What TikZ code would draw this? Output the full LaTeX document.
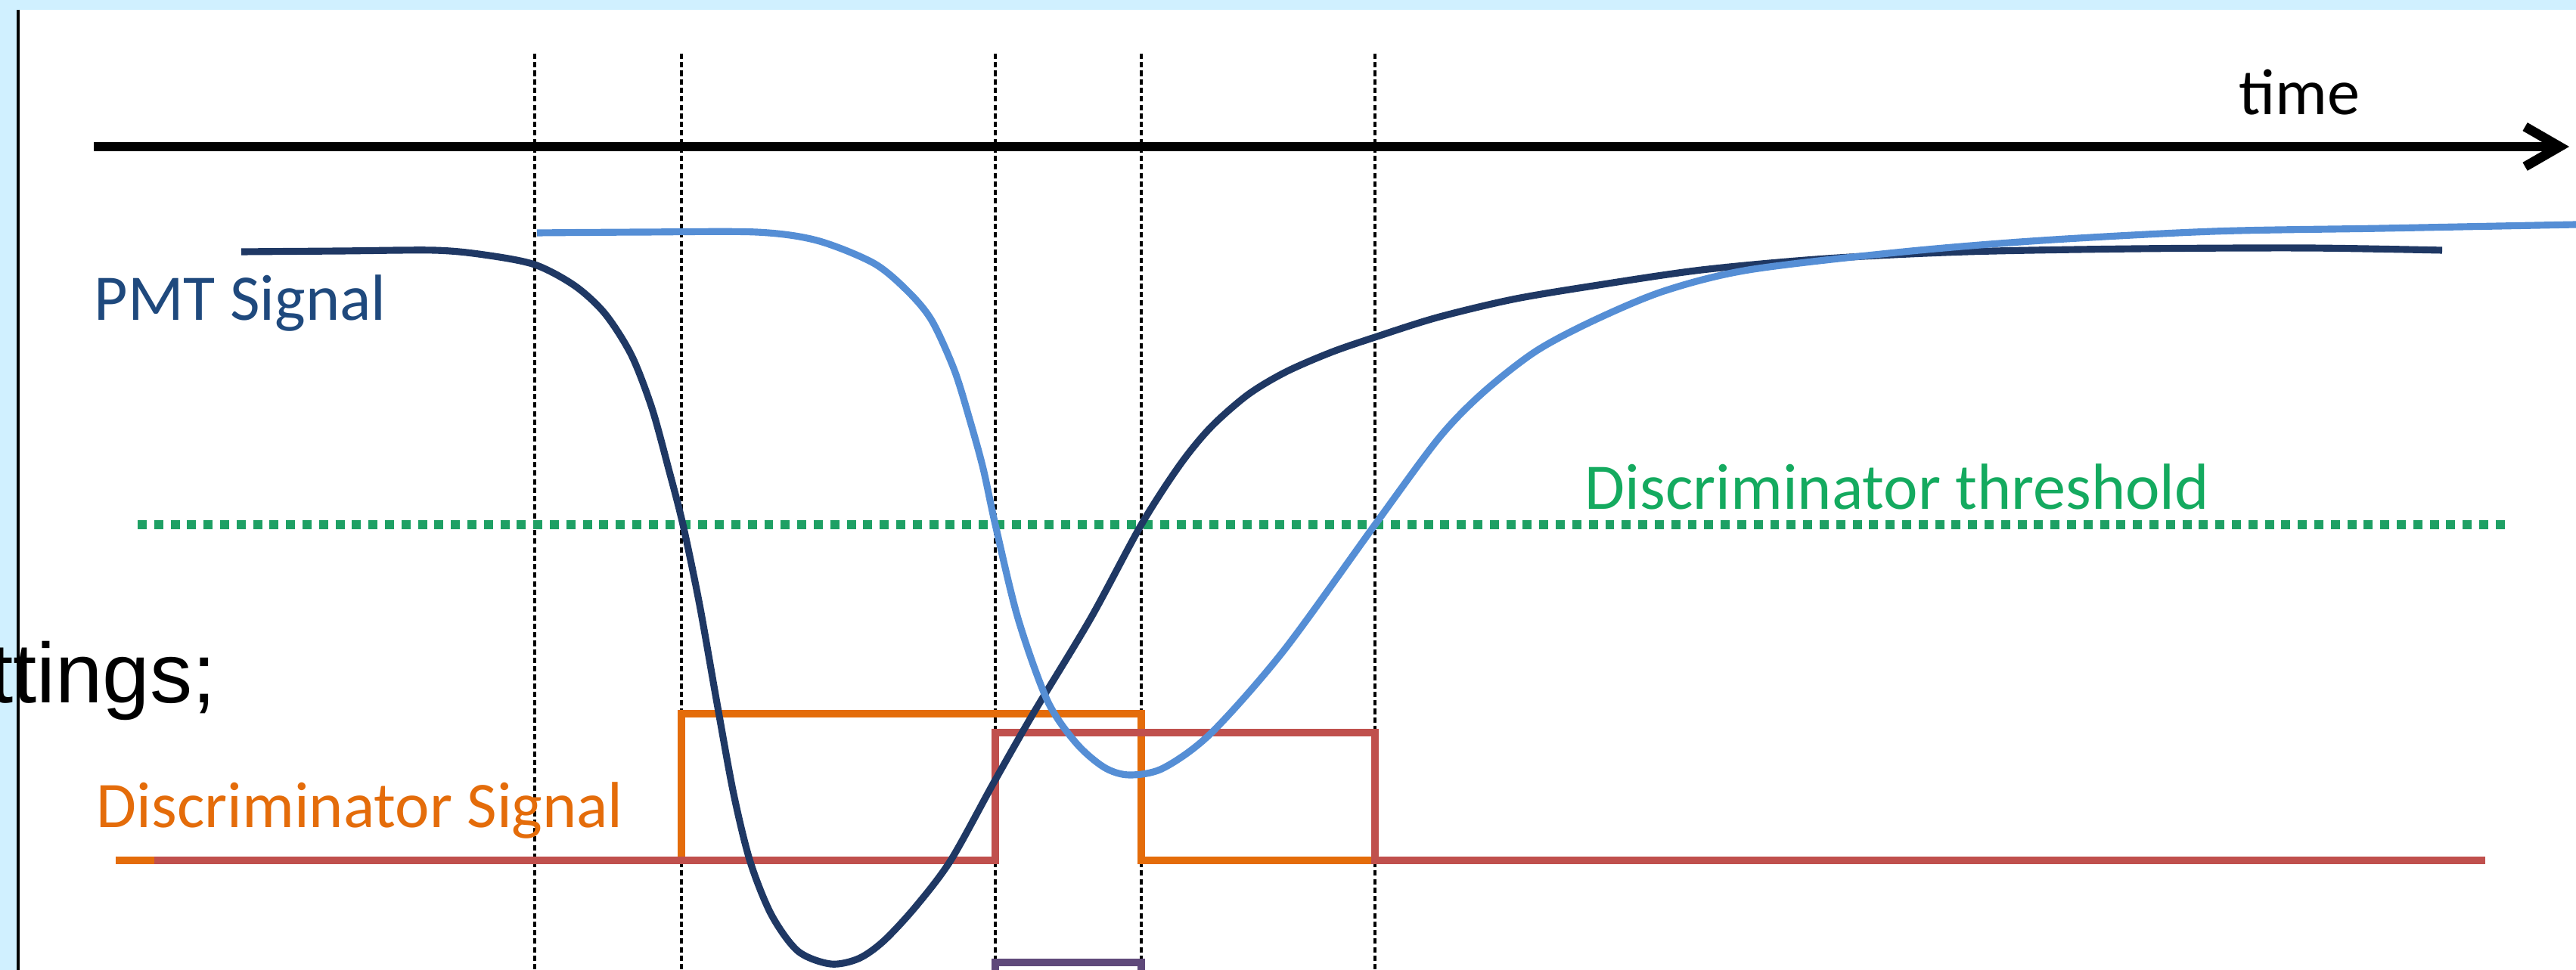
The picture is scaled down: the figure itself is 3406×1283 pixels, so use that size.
\documentclass[tikz,border=0pt]{standalone}
\usepackage{fontspec}
\setmainfont{Carlito}
\newfontfamily\slidefont{Liberation Sans}
\usepackage{xcolor}
\usepackage{tikz}
\usetikzlibrary{arrows.meta, positioning}
\definecolor{pmtdark}{RGB}{31,56,100}
\definecolor{pmtlight}{RGB}{85,142,213}
\definecolor{pmttext}{RGB}{31,73,125}
\definecolor{discorange}{RGB}{228,108,10}
\definecolor{discred}{RGB}{192,80,77}
\definecolor{thrgreen}{RGB}{30,160,100}
\definecolor{thrtext}{RGB}{20,170,95}
\definecolor{gatepurple}{RGB}{95,73,122}
\definecolor{slideband}{RGB}{208,240,255}
\tikzset{
    lbl/.style={inner sep=0pt, font=\fontsize{24.5}{29}\selectfont},
    axisline/.style={line width=3.4pt, draw=black,
                     -{Straight Barb[length=13pt, width=15pt, line width=3.6pt]}},
    marker/.style={line width=0.9pt, draw=black,
                   dash pattern=on 2pt off 1.2pt},
    thresh/.style={line width=3.2pt, draw=thrgreen,
                   dash pattern=on 3.4pt off 2.8pt},
    sigdark/.style={line width=2.6pt, draw=pmtdark, smooth, tension=0.5},
    siglight/.style={line width=2.6pt, draw=pmtlight, smooth, tension=0.5},
    discA/.style={line width=2.7pt, draw=discorange},
    discB/.style={line width=2.7pt, draw=discred},
    gate/.style={line width=2.7pt, draw=gatepurple}
}
\begin{document}
\begin{tikzpicture}[x=0.01cm, y=-0.01cm]
\useasboundingbox (0,0) rectangle (3406,1283);

% slide frame
\fill[slideband] (0,0) rectangle (3406,13);
\fill[slideband] (0,0) rectangle (22,1283);
\draw[line width=0.9pt] (24,13) -- (24,1283);
\node[inner sep=0pt, anchor=base east, font=\slidefont\fontsize{31.9}{38}\selectfont]
    (cutoff) at (286,930) {ttings;};

% time markers
\foreach \tx in {707, 901, 1316, 1509, 1818}
    \draw[marker] (\tx,71) -- (\tx,1283);

% time axis
\coordinate (t0) at (124,194);
\coordinate (t1) at (3397,194);
\draw[axisline] (t0) -- (t1);
\node[lbl, anchor=base west] (timelbl) at (2960,152) {time};

% threshold
\draw[thresh] (182,694) -- (3316,694);
\node[lbl, anchor=base west, text=thrtext] (thrlbl) at (2095,674) {Discriminator threshold};

% discriminator outputs
\draw[discA] (153,1138) -- (901,1138) -- (901,944) -- (1509,944)
             -- (1509,1138) -- (1818,1138);
\draw[discB] (204,1138) -- (1316,1138) -- (1316,969) -- (1818,969)
             -- (1818,1138) -- (3286,1138);
\node[lbl, anchor=base west, text=discorange] (disclbl) at (127,1094) {Discriminator Signal};

% coincidence gate
\draw[gate] (1316,1300) -- (1316,1273) -- (1509,1273) -- (1509,1300);

% PMT pulses
\draw[sigdark] plot coordinates {(319,333) (450,332) (574,331) (640,337) (707,350)
    (760,378) (800,415) (835,470) (862,540) (884,620) (903,694) (925,800)
    (948,930) (970,1050) (992,1140) (1020,1210) (1055,1258) (1098,1275)
    (1135,1268) (1168,1245) (1210,1200) (1257,1138) (1314,1035) (1366,944)
    (1442,818) (1509,694) (1560,615) (1601,565) (1650,522) (1700,492)
    (1760,466) (1818,446) (1900,420) (2000,396) (2107,378) (2250,357)
    (2415,342) (2600,333) (2825,329) (3050,328) (3229,331)};
\draw[siglight] plot coordinates {(710,308) (850,307) (1000,307) (1080,318)
    (1155,348) (1200,385) (1232,424) (1262,490) (1283,558) (1300,620)
    (1316,694) (1346,818) (1385,927) (1423,983) (1460,1015) (1493,1025)
    (1538,1016) (1601,970) (1697,861) (1818,694) (1902,580) (1960,520)
    (2030,465) (2107,424) (2200,385) (2312,357) (2517,333) (2700,318)
    (2927,306) (3150,302) (3406,297)};
\node[lbl, anchor=base west, text=pmttext] (pmtlbl) at (124,424) {PMT Signal};
\end{tikzpicture}
\end{document}
